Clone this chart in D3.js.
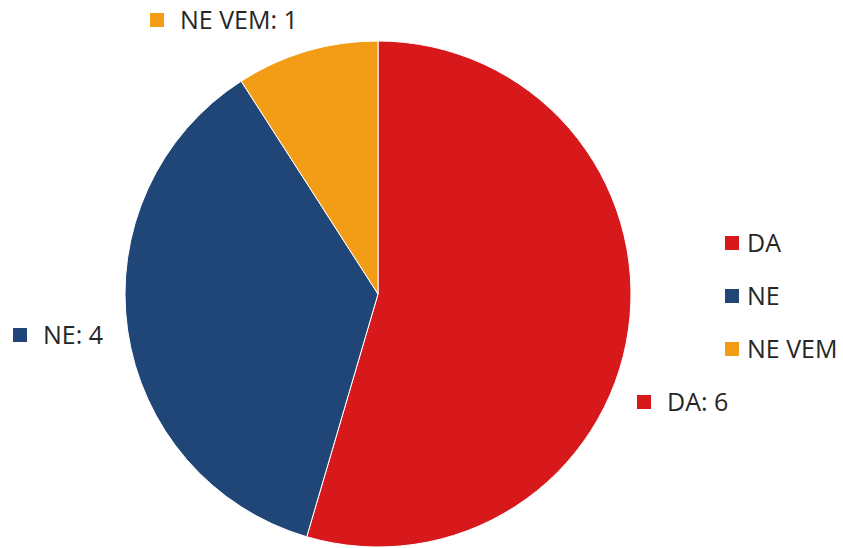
<!DOCTYPE html>
<html><head><meta charset="utf-8">
<script src="https://cdn.jsdelivr.net/npm/d3@7"></script>
<style>body{margin:0;background:#fff}svg{display:block}text{font-family:"Open Sans","Liberation Sans",sans-serif;fill:#262626}</style>
</head><body>
<script>
const categories = ["DA", "NE", "NE VEM"];
const values = [6, 4, 1];
const colors = ["#d7191c", "#1f4677", "#f39c16"];

const W = 843, H = 548;
const svg = d3.select("body").append("svg").attr("width", W).attr("height", H);
const cx = 378, cy = 294, r = 253;

const data = categories.map((c, i) => ({cat: c, value: values[i], color: colors[i]}));
const pie = d3.pie().value(d => d.value).sort(null);
const arc = d3.arc().innerRadius(0).outerRadius(r);
const arcs = pie(data);

const g = svg.append("g").attr("transform", `translate(${cx},${cy})`);
g.selectAll("path").data(arcs).enter().append("path")
  .attr("d", arc).attr("fill", d => d.data.color)
  .attr("stroke", "#fff").attr("stroke-width", 1);

// data labels (with marker squares)
const labelPos = {"DA": [637, 402], "NE": [13, 335], "NE VEM": [150, 20]};
arcs.forEach(a => {
  const [x, y] = labelPos[a.data.cat];
  svg.append("rect").attr("x", x).attr("y", y - 7).attr("width", 14).attr("height", 14).attr("fill", a.data.color);
  svg.append("text").attr("x", x + 30).attr("y", y).attr("dy", "0.36em")
    .attr("font-size", 25).text(`${a.data.cat}: ${a.data.value}`);
});

// legend
const lg = svg.append("g").attr("transform", "translate(725,243)");
data.forEach((d, i) => {
  const row = lg.append("g").attr("transform", `translate(0,${i * 53})`);
  row.append("rect").attr("x", 0).attr("y", -7).attr("width", 14).attr("height", 14).attr("fill", d.color);
  row.append("text").attr("x", 22).attr("y", 0).attr("dy", "0.36em").attr("font-size", 25).text(d.cat);
});
</script>
</body></html>
